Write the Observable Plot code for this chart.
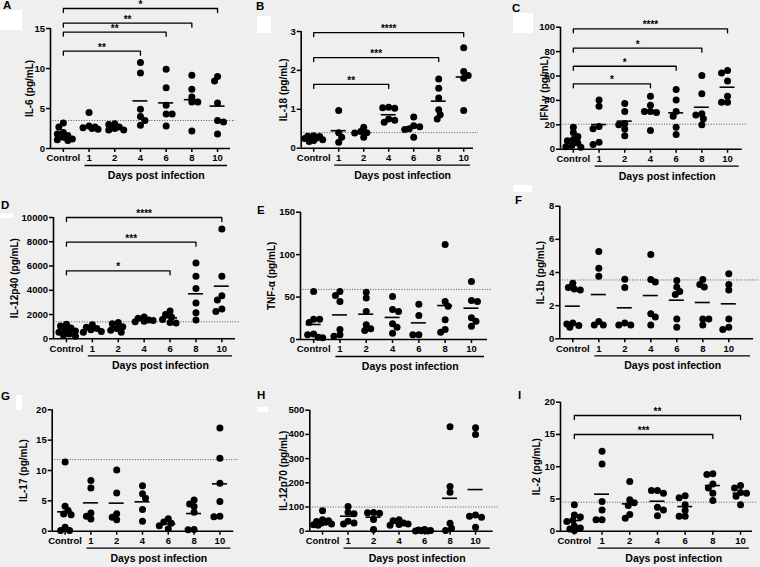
<!DOCTYPE html>
<html><head><meta charset="utf-8">
<script src="https://cdn.jsdelivr.net/npm/d3@7"></script>
<script src="https://cdn.jsdelivr.net/npm/@observablehq/plot@0.6"></script>
<style>
body{margin:0;background:#efefef;}
#fig{position:relative;width:760px;height:567px;overflow:hidden;background:#efefef;font-family:"Liberation Sans",Arial,sans-serif;}
.letter{position:absolute;font-weight:bold;font-size:11.5px;line-height:1;color:#000;}
.wbox{position:absolute;background:#fff;}
</style></head><body><div id="fig"></div><script>
const days = ["Control","1","2","4","6","8","10"];

// A: IL-6
const il6Values = [[3.2,2.7,2.0,1.8,1.6,1.4,1.2,1.1,1.0],[4.5,2.8,2.7,2.6,2.5,2.4],[3.1,3.0,2.7,2.5,2.3,2.3],[10.75,9.45,4.9,4.0,3.5,2.9],[9.9,7.6,5.4,4.3,4.3,2.8],[9.15,7.4,6.45,5.8,5.8,2.2],[9.0,8.45,5.7,3.5,3.3,1.8]];
const il6Means = [1.9,2.8,2.65,5.95,5.7,6.1,5.3];
const il6Cutoff = 3.5;
const il6Ticks = [0,5,10,15];
const il6Sig = [{day:"4",stars:"**",level:12.16},{day:"6",stars:"**",level:14.54},{day:"8",stars:"**",level:15.66},{day:"10",stars:"*",level:17.5}];

// B: IL-18
const il18Values = [[0.32,0.31,0.3,0.28,0.26,0.25,0.22,0.2,0.17],[0.97,0.4,0.28,0.15],[0.54,0.43,0.4,0.39,0.28],[1.05,1.04,1.03,0.75,0.72,0.67],[0.8,0.58,0.55,0.5,0.48,0.28],[1.78,1.54,1.29,0.99,0.86,0.75],[2.58,1.97,1.87,1.8,0.97]];
const il18Means = [0.27,0.45,0.4,0.86,0.54,1.21,1.83];
const il18Cutoff = 0.4;
const il18Ticks = [0,1,2,3];
const il18Sig = [{day:"4",stars:"**",level:1.64},{day:"8",stars:"***",level:2.33},{day:"10",stars:"****",level:2.97}];

// C: IFN-gamma
const ifnValues = [[18,13.7,10.4,8,7,5,3,2,1.5],[40.4,35.2,18.6,16.7,5.7,3.8],[37.5,31,21,20,16.5,11],[43.5,36,31,31,30,15.3],[48.9,40.4,31,27,18,12],[60.4,45.4,29,28,24.9,20],[64.5,62.5,56,43.5,38.5,38.5]];
const ifnMeans = [8.2,20.2,23,31.7,29.8,34.4,50.8];
const ifnCutoff = 20.5;
const ifnTicks = [0,20,40,60,80,100];
const ifnSig = [{day:"4",stars:"*",level:53.6},{day:"6",stars:"*",level:68.0},{day:"8",stars:"*",level:82.8},{day:"10",stars:"****",level:98.7}];

// D: IL-12p40
const p40Values = [[1200,1050,900,750,650,550,400,300,200],[1150,950,850,750,600,550],[1350,1250,1000,850,700,550],[1800,1700,1550,1500,1450,1400],[2300,2000,1800,1600,1350,1300],[6250,5150,4150,2950,2150,1550],[9050,5150,3550,3200,2450,2250]];
const p40Means = [690,770,960,1540,1730,3710,4340];
const p40Cutoff = 1400;
const p40Ticks = [0,2000,4000,6000,8000,10000];
const p40Sig = [{day:"6",stars:"*",level:5606},{day:"8",stars:"***",level:7964},{day:"10",stars:"****",level:10000}];

// E: TNF-alpha
const tnfValues = [[56.5,24,24,20,6.5,5.5,2.7,2],[56.5,51.8,44.8,11.8,5.5,3.9],[55.8,49,33,17.3,12.6,10.6],[50.6,35.3,33,18.5,14.5,7.5],[41.6,28.3,5.5,5.5],[111.9,44.8,39.3,23.2,11.8,8.6],[68.3,46,44.8,25.5,21.6,15.7]];
const tnfMeans = [17.7,29,29.8,26,19.6,40,36.9];
const tnfCutoff = 59;
const tnfTicks = [0,50,100,150];
const tnfSig = [];

// F: IL-1b
const il1bValues = [[3.35,3.1,3.0,2.95,0.95,0.9,0.8,0.7],[5.27,4.26,3.78,1.05,0.84,0.84],[3.6,3.1,0.96,0.84,0.84],[5.09,3.58,3.42,1.51,1.31,0.84],[3.52,3.12,2.85,2.67,1.2,0.7],[3.58,3.28,3.12,1.2,1.2,0.84],[3.92,3.28,2.95,1.2,0.7,0.56]];
const il1bMeans = [1.97,2.67,1.87,2.61,2.33,2.19,2.11];
const il1bCutoff = 3.55;
const il1bTicks = [0,2,4,6,8];
const il1bSig = [];

// G: IL-17
const il17Values = [[11.4,4.1,3.4,2.85,2.7,0.66,0.1,0.1],[8.35,7.1,3.0,2.47,2.0],[10.1,6.3,2.86,2.3,1.87],[7.5,6.15,5.44,3.57,1.65],[2.05,1.5,1.3,0.9,0.4],[5.16,4.5,4.07,3.13,0.27,0.22],[17.0,12.0,7.9,4.9,2.47,2.4]];
const il17Means = [3.19,4.67,4.62,4.84,1.2,2.91,7.8];
const il17Cutoff = 11.8;
const il17Ticks = [0,5,10,15,20];
const il17Sig = [];

// H: IL-12p70
const p70Values = [[85,47,43,40,37,33,30,27,25],[102,78.5,71.6,41,34,30],[77,76,74,48,7],[47,43,34,30,27.5,25],[7,5,3,2,1,0.5],[432,185,161,33,12,3],[427,400,67,62,58,16.5]];
const p70Means = [41,62,57.9,33,2.8,136,172];
const p70Cutoff = 100;
const p70Ticks = [0,100,200,300,400,500];
const p70Sig = [];

// I: IL-2
const il2Values = [[4.1,2.5,2.2,1.7,1.5,0.8,0.5,0.35,0.1],[12.4,10.4,4.6,3.3,1.76,1.76],[7.7,4.86,4.4,4.0,2.6,2.0],[6.3,6.3,5.9,3.7,3.3,2.4],[5.5,5.2,4.1,3.2,2.3,2.3],[8.9,8.8,7.3,6.7,5.9,4.75],[7.1,6.7,6.0,5.9,5.4,4.1]];
const il2Means = [1.65,5.74,4.24,4.65,3.82,7.08,5.89];
const il2Cutoff = 4.5;
const il2Ticks = [0,5,10,15,20];
const il2Sig = [{day:"8",stars:"***",level:14.99},{day:"10",stars:"**",level:17.94}];

const panels = [
  {id:"A", label:"IL-6 (pg/mL)", values:il6Values, means:il6Means, cutoff:il6Cutoff, ticks:il6Ticks, sig:il6Sig},
  {id:"B", label:"IL-18 (pg/mL)", values:il18Values, means:il18Means, cutoff:il18Cutoff, ticks:il18Ticks, sig:il18Sig},
  {id:"C", label:"IFN-γ (pg/mL)", values:ifnValues, means:ifnMeans, cutoff:ifnCutoff, ticks:ifnTicks, sig:ifnSig},
  {id:"D", label:"IL-12p40 (pg/mL)", values:p40Values, means:p40Means, cutoff:p40Cutoff, ticks:p40Ticks, sig:p40Sig},
  {id:"E", label:"TNF-α (pg/mL)", values:tnfValues, means:tnfMeans, cutoff:tnfCutoff, ticks:tnfTicks, sig:tnfSig},
  {id:"F", label:"IL-1b (pg/mL)", values:il1bValues, means:il1bMeans, cutoff:il1bCutoff, ticks:il1bTicks, sig:il1bSig},
  {id:"G", label:"IL-17 (pg/mL)", values:il17Values, means:il17Means, cutoff:il17Cutoff, ticks:il17Ticks, sig:il17Sig},
  {id:"H", label:"IL-12p70 (pg/mL)", values:p70Values, means:p70Means, cutoff:p70Cutoff, ticks:p70Ticks, sig:p70Sig},
  {id:"I", label:"IL-2 (pg/mL)", values:il2Values, means:il2Means, cutoff:il2Cutoff, ticks:il2Ticks, sig:il2Sig}
];

// layout (page pixels)
const layout = {
  A:{left:0,top:0,w:250,h:185,x0:50,s:25.7,xEnd:230,yTop:28,y0:148,labelOff:20.7,letter:[3,10]},
  B:{left:250,top:0,w:250,h:185,x0:300.7,s:25,xEnd:473,yTop:31,y0:147.7,labelOff:17.4,letter:[256,10.5]},
  C:{left:500,top:0,w:260,h:185,x0:560,s:25.7,xEnd:741.7,yTop:26.7,y0:148.7,labelOff:15.7,letter:[512,13]},
  D:{left:0,top:185,w:250,h:190,x0:53,s:25.9,xEnd:235,yTop:217,y0:338.3,labelOff:39,letter:[1,210]},
  E:{left:250,top:185,w:250,h:190,x0:300,s:26.3,xEnd:487,yTop:211.7,y0:339,labelOff:29,letter:[257,215]},
  F:{left:500,top:185,w:260,h:190,x0:559.3,s:26,xEnd:753,yTop:205.7,y0:338.3,labelOff:19,letter:[515,205]},
  G:{left:0,top:375,w:250,h:192,x0:51.7,s:25.8,xEnd:233.3,yTop:409.3,y0:530.7,labelOff:28,letter:[1,401]},
  H:{left:250,top:375,w:250,h:192,x0:309.3,s:25.5,xEnd:492.7,yTop:409.7,y0:530.7,labelOff:26,letter:[257,400]},
  I:{left:500,top:375,w:260,h:192,x0:560,s:27.7,xEnd:752,yTop:401.7,y0:530.7,labelOff:23.3,letter:[518,400]}
};
const whiteBoxes = [[0,10,22,20],[257,16,14,17],[513,13,20,20],[0,213,13,5],[513,185,19,7],[16,395,6,15],[257,407,11,5]];

const fig = document.getElementById("fig");
whiteBoxes.forEach(([x,y,w,h]) => {
  const d = document.createElement("div");
  d.className = "wbox";
  Object.assign(d.style, {left:x+"px", top:y+"px", width:w+"px", height:h+"px"});
  fig.appendChild(d);
});

// scatter-dot layout: spread close points sideways within a limited width
function swarm(vals, pxU) {
  const minDist = 5.2, maxHalf = 9, stepPx = 1.5;
  const cands = [0];
  for (let c = stepPx; c <= maxHalf + 1e-6; c += stepPx) cands.push(c, -c);
  const placed = [];
  return vals.slice().sort((a, b) => b - a).map((v, j) => {
    const py = v * pxU;
    const flip = j % 2 ? -1 : 1;
    let best = 0, bestScore = -1;
    for (const c0 of cands) {
      const c = c0 * flip;
      const d = placed.length ? Math.min(...placed.map(q => Math.hypot(q.x - c, q.y - py))) : Infinity;
      const score = Math.min(d, minDist);
      if (score > bestScore + 0.3) { bestScore = score; best = c; }
      if (d >= minDist) { best = c; break; }
    }
    placed.push({x: best, y: py});
    return {v, off: best};
  });
}

function render(p) {
  const g = layout[p.id];
  const xMaxU = -0.5 + (g.xEnd - g.x0) / g.s;
  const max = p.ticks[p.ticks.length - 1];
  const pxU = (g.y0 - g.yTop) / max;
  const pts = [];
  p.values.forEach((vals, gi) => {
    swarm(vals, pxU).forEach(({v, off}) => pts.push({x: gi + off / g.s, v}));
  });
  const meanData = p.means.map((m, i) => ({i, m}));
  const idx = d => days.indexOf(d);
  const tickU = 4 / pxU;
  const brk = [];
  p.sig.forEach((s, k) => {
    const e = idx(s.day);
    brk.push({k, x: 0, y: s.level - tickU}, {k, x: 0, y: s.level}, {k, x: e, y: s.level}, {k, x: e, y: s.level - tickU});
  });
  const half = 7.5 / g.s;
  const barStart = 1 - 4 / g.s;
  const barEnd = xMaxU - 3 / g.s;
  const svg = Plot.plot({
    width: g.w, height: g.h,
    marginLeft: g.x0 - g.left, marginRight: g.left + g.w - g.xEnd,
    marginTop: g.yTop - g.top, marginBottom: g.top + g.h - g.y0,
    x: {domain: [-0.5, xMaxU]},
    y: {domain: [0, max]},
    style: {background: "transparent", color: "black", fontFamily: '"Liberation Sans", Arial, sans-serif', fontWeight: "bold", fontSize: "9.5px", overflow: "visible"},
    marks: [
      Plot.ruleY([p.cutoff], {x1: -0.5, x2: xMaxU + 5 / g.s, stroke: "#555", strokeWidth: 1, strokeDasharray: "1,1.6"}),
      Plot.axisY({ticks: p.ticks, tickFormat: d => String(d), tickSize: 4, tickPadding: 1.5, strokeWidth: 1.5, label: null}),
      Plot.axisX({ticks: [0,1,2,3,4,5,6], tickFormat: i => days[i], tickSize: 4, tickPadding: 2, strokeWidth: 1.5, label: null}),
      Plot.ruleX([-0.5], {strokeWidth: 1.6}),
      Plot.ruleY([0], {strokeWidth: 1.6}),
      Plot.dot(pts, {x: "x", y: "v", r: 3.5, fill: "black", stroke: null}),
      Plot.ruleY(meanData, {y: "m", x1: d => d.i - half, x2: d => d.i + half, stroke: "black", strokeWidth: 1.6}),
      Plot.line(brk, {x: "x", y: "y", z: "k", stroke: "black", strokeWidth: 1.3}),
      Plot.text(p.sig, {x: d => idx(d.day) / 2, y: "level", text: "stars", dy: -0.5, lineAnchor: "bottom", fontSize: 10}),
      Plot.ruleY([0], {x1: barStart, x2: barEnd, dy: 17, strokeWidth: 1.3}),
      Plot.text(["Days post infection"], {x: (barStart + barEnd) / 2, y: 0, dy: 27, text: d => d, fontSize: 10.5, lineAnchor: "middle"}),
      Plot.text([p.label], {x: -0.5, y: max / 2, rotate: -90, dx: -g.labelOff, text: d => d, fontSize: 10, textAnchor: "middle", lineAnchor: "middle"})
    ]
  });
  Object.assign(svg.style, {position: "absolute", left: g.left + "px", top: g.top + "px"});
  fig.appendChild(svg);
  const L = document.createElement("div");
  L.className = "letter";
  L.textContent = p.id;
  L.style.left = g.letter[0] + "px";
  L.style.top = (g.letter[1] - 9.7) + "px";
  fig.appendChild(L);
}
panels.forEach(render);
</script></body></html>
